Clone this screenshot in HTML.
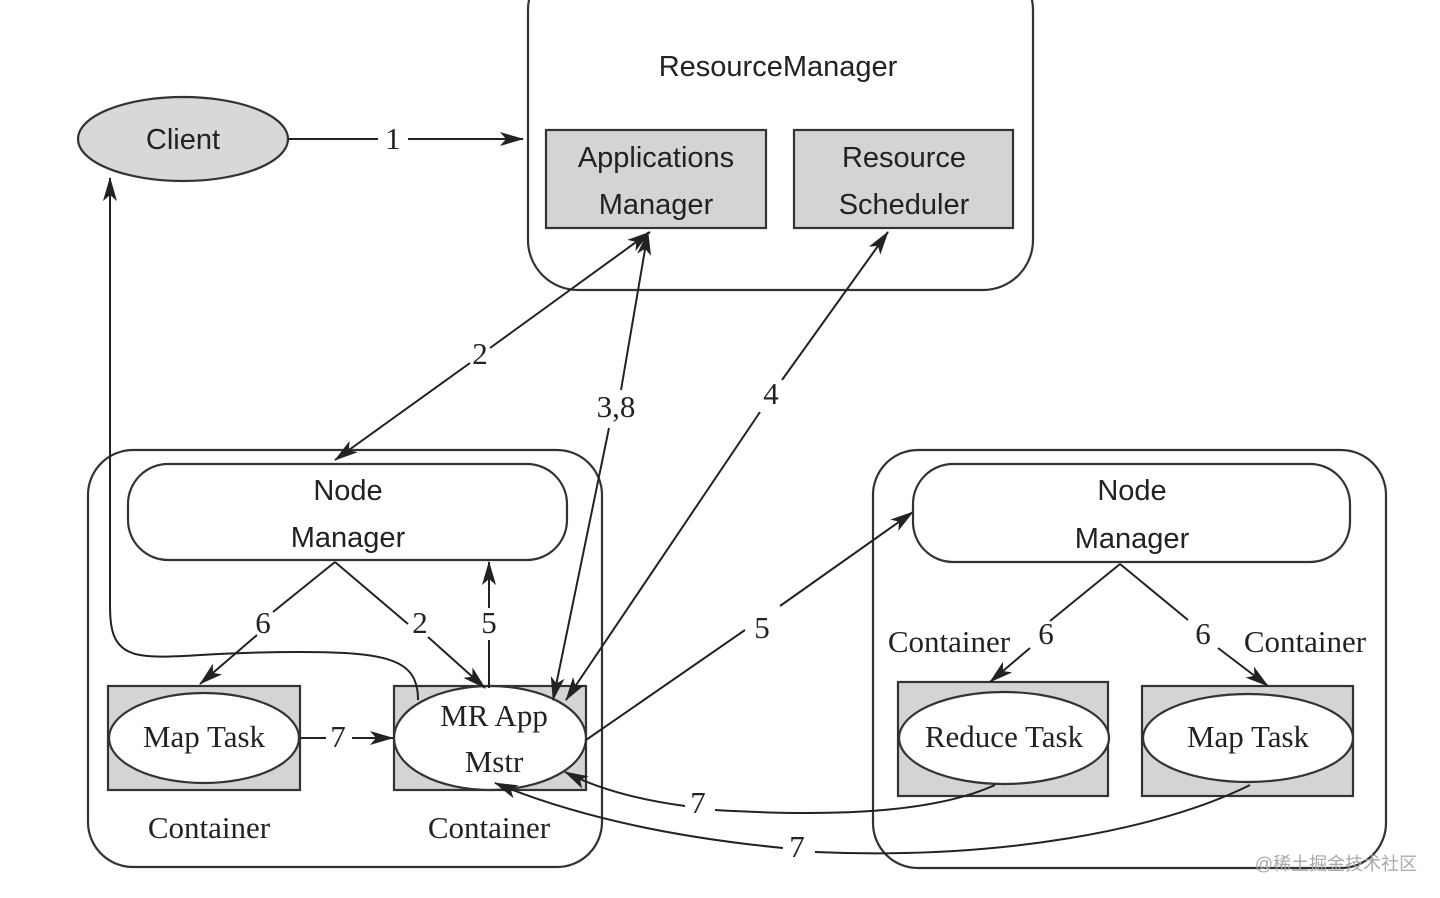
<!DOCTYPE html>
<html><head><meta charset="utf-8"><style>
html,body{margin:0;padding:0;background:#fff;}
svg{display:block}
.s{font-family:"Liberation Sans",sans-serif;font-size:29px;fill:#222;text-anchor:middle}
.r{font-family:"Liberation Serif",serif;font-size:31px;fill:#222;text-anchor:middle}
</style></head><body>
<svg width="1440" height="898" viewBox="0 0 1440 898" xmlns="http://www.w3.org/2000/svg">
<defs>
<marker id="a" viewBox="0 0 24 14" refX="23" refY="7" markerWidth="24" markerHeight="14" markerUnits="userSpaceOnUse" orient="auto-start-reverse">
<path d="M0,0 L24,7 L0,14 L6,7 Z" fill="#222"/></marker>
</defs>
<g fill="none" stroke="#333" stroke-width="2.2">
<rect x="528" y="-40" width="505" height="330" rx="50" fill="#fff"/>
<rect x="546" y="130" width="220" height="98" fill="#d4d4d4"/>
<rect x="794" y="130" width="219" height="98" fill="#d4d4d4"/>
<ellipse cx="183" cy="139" rx="105" ry="42" fill="#d8d8d8"/>
<rect x="88" y="450" width="514" height="417" rx="45" fill="none"/>
<rect x="128" y="464" width="439" height="96" rx="40" fill="#fff"/>
<rect x="873" y="450" width="513" height="418" rx="45" fill="none"/>
<rect x="913" y="464" width="437" height="98" rx="40" fill="#fff"/>
<rect x="108" y="686" width="192" height="104" fill="#d4d4d4"/>
<ellipse cx="204" cy="738" rx="95" ry="45" fill="#fff"/>
<rect x="394" y="686" width="192" height="104" fill="#d4d4d4"/>
<ellipse cx="490" cy="738" rx="96" ry="52" fill="#fff"/>
<rect x="898" y="682" width="210" height="114" fill="#d4d4d4"/>
<ellipse cx="1004" cy="738" rx="105" ry="46" fill="#fff"/>
<rect x="1142" y="686" width="211" height="110" fill="#d4d4d4"/>
<ellipse cx="1248" cy="738" rx="105" ry="44" fill="#fff"/>
</g>
<g fill="none" stroke="#222" stroke-width="2">
<path d="M288,139 H378 M408,139 H523" marker-end="url(#a)"/>
<path d="M650,232 L490,348 M470,363 L335,460" marker-start="url(#a)" marker-end="url(#a)"/>
<path d="M648,232 L621,390 M609,428 L553,700" marker-start="url(#a)" marker-end="url(#a)"/>
<path d="M888,232 L782,380 M760,412 L566,700" marker-start="url(#a)" marker-end="url(#a)"/>
<path d="M586,740 L745,630 M780,606 L913,512" marker-end="url(#a)"/>
<path d="M418,700 C418,660 390,652 300,652 C200,652 170,660 140,655 C110,650 110,625 110,600 L110,178" marker-end="url(#a)"/>
<path d="M335,562 L273,612 M257,635 L200,684" marker-end="url(#a)"/>
<path d="M335,562 L408,624 M428,637 L485,688" marker-end="url(#a)"/>
<path d="M489,688 L489,640 M489,608 L489,562" marker-end="url(#a)"/>
<path d="M300,738 H326 M352,738 H393" marker-end="url(#a)"/>
<path d="M1120,564 L1050,621 M1030,648 L990,682" marker-end="url(#a)"/>
<path d="M1120,564 L1188,620 M1218,648 L1268,686" marker-end="url(#a)"/>
<path d="M995,785 C940,810 850,818 715,810 M685,806 C640,800 600,790 565,772" marker-end="url(#a)"/>
<path d="M1250,785 C1160,830 1000,860 815,852 M783,848 C650,835 560,810 495,783" marker-end="url(#a)"/>
</g>
<text class="s" x="778" y="76">ResourceManager</text>
<text class="s" x="656" y="167">Applications</text>
<text class="s" x="656" y="214">Manager</text>
<text class="s" x="904" y="167">Resource</text>
<text class="s" x="904" y="214">Scheduler</text>
<text class="s" x="183" y="149">Client</text>
<text class="s" x="348" y="500">Node</text>
<text class="s" x="348" y="547">Manager</text>
<text class="s" x="1132" y="500">Node</text>
<text class="s" x="1132" y="548">Manager</text>
<text class="r" x="393" y="149">1</text>
<text class="r" x="480" y="364">2</text>
<text class="r" x="616" y="417">3,8</text>
<text class="r" x="771" y="404">4</text>
<text class="r" x="762" y="638">5</text>
<text class="r" x="263" y="633">6</text>
<text class="r" x="420" y="633">2</text>
<text class="r" x="489" y="633">5</text>
<text class="r" x="338" y="747">7</text>
<text class="r" x="1046" y="644">6</text>
<text class="r" x="1203" y="644">6</text>
<text class="r" x="698" y="813">7</text>
<text class="r" x="797" y="857">7</text>
<text class="r" x="204" y="747">Map Task</text>
<text class="r" x="494" y="726">MR App</text>
<text class="r" x="494" y="772">Mstr</text>
<text class="r" x="1004" y="747">Reduce Task</text>
<text class="r" x="1248" y="747">Map Task</text>
<text class="r" x="209" y="838">Container</text>
<text class="r" x="489" y="838">Container</text>
<text class="r" x="949" y="652">Container</text>
<text class="r" x="1305" y="652">Container</text>
<text x="1336" y="870" style="font-family:'Liberation Sans','Noto Sans CJK SC',sans-serif;font-size:18px;fill:#aaa;text-anchor:middle">@稀土掘金技术社区</text>
</svg>
</body></html>
